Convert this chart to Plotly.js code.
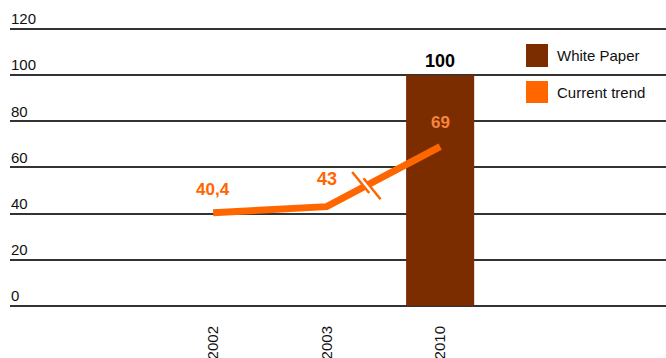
<!DOCTYPE html>
<html>
<head>
<meta charset="utf-8">
<script src="https://cdn.plot.ly/plotly-3.0.1.min.js"></script>
<style>html,body{margin:0;padding:0;background:#fff;}#chart{width:666px;height:358px;}</style>
</head>
<body>
<div id="chart"></div>
<script>
// ---- data ----
const years = ['2002', '2003', '2010'];
const trendValues = [40.4, 43, 69];
const trendLabels = ['40,4', '43', '69'];
const paperYears = ['2010'];
const paperValues = [100];
const paperLabels = ['100'];
const legendNames = ['White Paper', 'Current trend'];
const yTicks = [0, 20, 40, 60, 80, 100, 120];

const ORANGE = '#ff6600';
const BROWN = '#7b2d00';
const FONT = 'Liberation Sans, Arial, sans-serif';

const traces = [
  {
    type: 'bar', x: paperYears, y: paperValues, name: legendNames[0],
    marker: {color: BROWN, line: {width: 0}}, width: 0.6, showlegend: false,
    hoverinfo: 'skip'
  },
  {
    type: 'scatter', mode: 'lines', x: years, y: trendValues, name: legendNames[1],
    line: {color: ORANGE, width: 7}, showlegend: false, hoverinfo: 'skip'
  }
];

// value annotations
const labelColors = [ORANGE, ORANGE, '#f5853f'];
const labelSizes = [17, 18, 17];
const labelShift = [23, 28, 24];
const annotations = [];
years.forEach((yr, i) => {
  annotations.push({
    x: i, y: trendValues[i], xref: 'x', yref: 'y', text: '<b>' + trendLabels[i] + '</b>',
    showarrow: false, yshift: labelShift[i],
    font: {family: FONT, size: labelSizes[i], color: labelColors[i]}
  });
});
paperYears.forEach((yr, i) => {
  annotations.push({
    x: years.indexOf(yr), y: paperValues[i], xref: 'x', yref: 'y', text: '<b>' + paperLabels[i] + '</b>',
    showarrow: false, yshift: 14,
    font: {family: FONT, size: 18, color: '#000'}
  });
});

// legend (manual, to get large square swatches); positions in pixels -> paper
const plotL = 10, plotW = 656, plotT = 6, plotH = 301;
const px = v => (v - plotL) / plotW;
const py = v => (plotT + plotH - v) / plotH;
const legendColors = [BROWN, ORANGE];
const legendRows = [[44, 67], [81, 103]];
const shapes = [];
legendNames.forEach((n, i) => {
  shapes.push({type: 'rect', xref: 'paper', yref: 'paper', x0: px(526), x1: px(548),
    y0: py(legendRows[i][1]), y1: py(legendRows[i][0]), fillcolor: legendColors[i], line: {width: 0}, layer: 'above'});
  annotations.push({xref: 'paper', yref: 'paper', x: px(555), y: py((legendRows[i][0] + legendRows[i][1]) / 2),
    xanchor: 'left', yanchor: 'middle', showarrow: false, text: n,
    font: {family: FONT, size: 15, color: '#111'}});
});

// axis break marks on the 2003-2010 segment
const t = 0.35;
const bx = 1 + t;
const by = trendValues[1] + t * (trendValues[2] - trendValues[1]);
const hx = 0.075, hy = 4.55, ox = 0.05, oy = 1.35;
shapes.push({type: 'line', xref: 'x', yref: 'y', x0: bx - hx * 0.8, x1: bx + hx * 0.8, y0: by + hy * 0.8, y1: by - hy * 0.8,
  line: {color: '#ffffff', width: 6}, layer: 'above'});
[-1, 1].forEach(s => {
  shapes.push({type: 'line', xref: 'x', yref: 'y',
    x0: bx + s * ox - hx, x1: bx + s * ox + hx, y0: by - s * oy + hy, y1: by - s * oy - hy,
    line: {color: ORANGE, width: 2.5}, layer: 'above'});
});

const layout = {
  width: 666, height: 358,
  margin: {l: plotL, r: 0, t: plotT, b: 51, pad: 0},
  paper_bgcolor: '#fff', plot_bgcolor: '#fff',
  showlegend: false,
  xaxis: {
    type: 'category', categoryorder: 'array', categoryarray: years,
    range: [-1.79, 3.99], showgrid: false, zeroline: false, showline: false,
    ticks: '', tickangle: -90, ticklabelstandoff: 15,
    tickfont: {family: FONT, size: 15, color: '#111'}, fixedrange: true
  },
  yaxis: {
    range: [-0.5, 130], tickvals: yTicks, ticktext: yTicks.map(String),
    showgrid: true, gridcolor: '#333', gridwidth: 2,
    zeroline: true, zerolinecolor: '#333', zerolinewidth: 2, showline: false,
    ticks: '', ticklabelposition: 'inside', ticklabelshift: -10, ticklabelstandoff: -2,
    tickfont: {family: FONT, size: 15, color: '#111'}, fixedrange: true
  },
  shapes: shapes,
  annotations: annotations
};

Plotly.newPlot('chart', traces, layout, {staticPlot: true, displayModeBar: false});
</script>
</body>
</html>
